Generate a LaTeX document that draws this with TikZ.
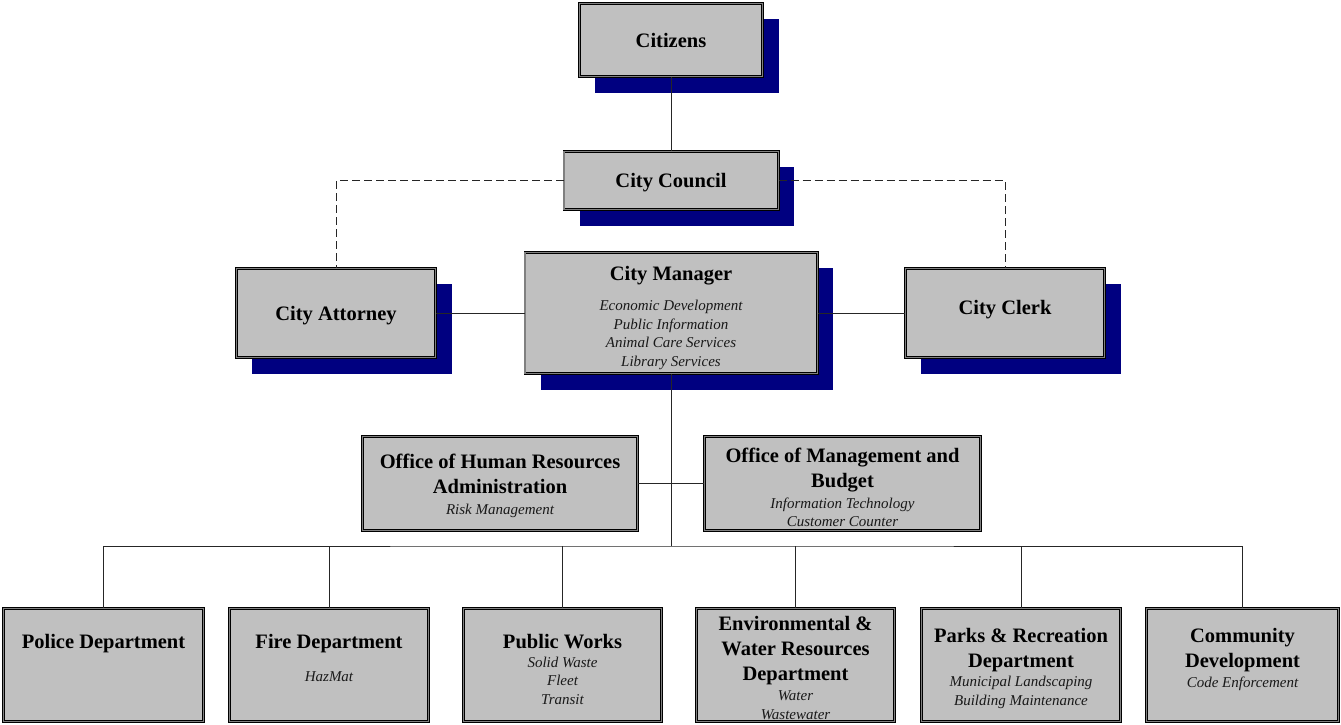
\documentclass[tikz,border=0pt]{standalone}
\usepackage{fontspec}
\setmainfont{Liberation Serif}
\usetikzlibrary{shadows}
\definecolor{boxfill}{HTML}{C0C0C0}
\definecolor{shade}{HTML}{000080}
\definecolor{band}{HTML}{808080}
\definecolor{linec}{HTML}{262626}
\begin{document}
\begin{tikzpicture}[x=1pt,y=-1pt,
  box/.style={rectangle, draw=black, line width=0.6pt, double=band, double distance=1.4pt, fill=boxfill, inner sep=0pt},
  shbox/.style={box, general shadow={fill=shade, shadow xshift=16pt, shadow yshift=-16pt}},
  ttl/.style={inner sep=0pt, align=center, text=black, yshift=-2.5pt, font=\fontsize{20.5}{25}\selectfont\bfseries},
  sub/.style={inner sep=0pt, align=center, text=black!90, yshift=-0.8pt, font=\fontsize{15}{18.7}\selectfont\itshape},
  conn/.style={draw=linec, line width=1pt},
  dconn/.style={conn, dash pattern=on 8pt off 4pt}
]
\useasboundingbox (0,0) rectangle (1341,725);

% boxes
\node[shbox, minimum width=183.4, minimum height=73.4] (cit) at (671,40) {};
\node[shbox, minimum width=214.4, minimum height=58.4] (cc) at (671,180.5) {};
\node[shbox, minimum width=199.4, minimum height=89.4] (att) at (336,313) {};
\node[shbox, minimum width=292.4, minimum height=121.4] (cm) at (671,313) {};
\node[shbox, minimum width=199.4, minimum height=89.4] (clk) at (1005,313) {};
\node[box, minimum width=275.4, minimum height=94.4] (hr) at (500,483.5) {};
\node[box, minimum width=276.4, minimum height=94.4] (omb) at (842.5,483.5) {};
\node[box, minimum width=200.4, minimum height=113.4] (pol) at (103.5,665) {};
\node[box, minimum width=199.4, minimum height=113.4] (fire) at (329,665) {};
\node[box, minimum width=198.4, minimum height=113.4] (pw) at (562.5,665) {};
\node[box, minimum width=198.4, minimum height=113.4] (env) at (795.5,665) {};
\node[box, minimum width=199.4, minimum height=113.4] (parks) at (1021,665) {};
\node[box, minimum width=192.4, minimum height=113.4] (com) at (1242.5,665) {};

% connectors
\coordinate (bus) at (671,546);
\draw[conn] (cit.south) -- (cc.north);
\draw[dconn] (cc.west) -| (att.north);
\draw[dconn] (cc.east) -| (clk.north);
\draw[conn] (att.east) -- (cm.west);
\draw[conn] (cm.east) -- (clk.west);
\draw[conn] (cm.south) -- (bus);
\draw[conn] (hr.east) -- (omb.west);
\draw[conn] (pol.north) |- (bus) -| (com.north);
\draw[conn] (fire.north) -- (fire.north |- bus);
\draw[conn] (pw.north) -- (pw.north |- bus);
\draw[conn] (env.north) -- (env.north |- bus);
\draw[conn] (parks.north) -- (parks.north |- bus);

% texts
\node[ttl] (cit-t) at (671,38) {Citizens};
\node[ttl] (cc-t) at (671,180) {City Council};
\node[ttl] (att-t) at (336,313) {City Attorney};
\node[ttl] (clk-t) at (1005,307) {City Clerk};
\node[ttl] (cm-t) at (671,273) {City Manager};
\node[sub] (cm-s) at (671,334) {Economic Development\\Public Information\\Animal Care Services\\Library Services};
\node[ttl] (hr-t) at (500,471.5) {Office of Human Resources\\Administration};
\node[sub] (hr-s) at (500,510) {Risk Management};
\node[ttl] (omb-t) at (842.5,467.5) {Office of Management and\\Budget};
\node[sub] (omb-s) at (842.5,511.5) {Information Technology\\Customer Counter};
\node[ttl] (pol-t) at (103.5,641) {Police Department};
\node[ttl] (fire-t) at (329,641) {Fire Department};
\node[sub] (fire-s) at (329,676) {HazMat};
\node[ttl] (pw-t) at (562.5,639) {Public Works};
\node[sub] (pw-s) at (562.5,680) {Solid Waste\\Fleet\\Transit};
\node[ttl] (env-t) at (795.5,648) {Environmental \&\\Water Resources\\Department};
\node[sub] (env-s) at (795.5,704.5) {Water\\Wastewater};
\node[ttl] (parks-t) at (1021,647.5) {Parks \& Recreation\\Department};
\node[sub] (parks-s) at (1021,691.5) {Municipal Landscaping\\Building Maintenance};
\node[ttl] (com-t) at (1242.5,647.5) {Community\\Development};
\node[sub] (com-s) at (1242.5,683) {Code Enforcement};
\end{tikzpicture}
\end{document}
